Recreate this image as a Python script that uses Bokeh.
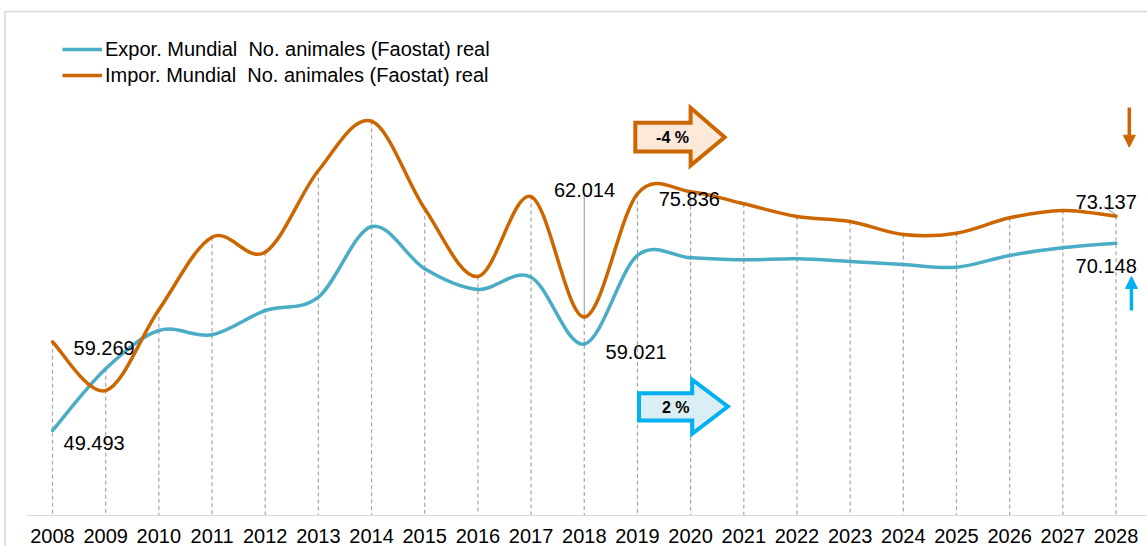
import numpy as np
from bokeh.plotting import figure
from bokeh.models import FixedTicker, Legend, LegendItem, Arrow, NormalHead, Range1d, LinearAxis
from bokeh.embed import file_html
from bokeh.resources import INLINE
from bokeh.core.properties import value

# ---------------- data ----------------
years = list(range(2008, 2029))
year_labels = [str(y) for y in years]
expor = [49.493, 56.30, 60.52, 60.05, 62.73, 64.20, 71.99, 67.33, 65.05, 66.40, 59.021,
         68.80, 68.54, 68.32, 68.43, 68.13, 67.80, 67.50, 68.80, 69.65, 70.148]
impor = [59.269, 53.90, 62.81, 70.81, 69.16, 78.17, 83.61, 73.95, 66.48, 75.30, 62.014,
         75.60, 75.836, 74.50, 73.10, 72.55, 71.11, 71.26, 72.95, 73.76, 73.137]
legend_labels = ["Expor. Mundial  No. animales (Faostat) real",
                 "Impor. Mundial  No. animales (Faostat) real"]
value_labels = ["49.493", "59.269", "62.014", "59.021", "75.836", "73.137", "70.148"]
pct_labels = ["-4 %", "2 %"]

# ---------------- style ----------------
FONT = "Liberation Sans"
C_EXP = "#4BACC6"
C_IMP = "#CC6600"
C_DROP = "#a6a6a6"
C_BORDER = "#d9d9d9"

X0, X1 = 2007.022, 2028.592
Y0, Y1 = 36.70, 96.92
Y_AXIS = 40.12

p = figure(width=1147, height=546, output_backend="svg", toolbar_location=None,
           x_range=Range1d(X0, X1), y_range=Range1d(Y0, Y1),
           x_axis_location=None, y_axis_location=None,
           min_border_left=0, min_border_right=0, min_border_top=0, min_border_bottom=0)
p.outline_line_color = None
p.grid.visible = False
p.background_fill_color = "white"
p.border_fill_color = "white"

ax = LinearAxis(fixed_location=Y_AXIS, bounds=(2007.511, X1))
ax.ticker = FixedTicker(ticks=years)
ax.major_label_overrides = {y: s for y, s in zip(years, year_labels)}
ax.major_tick_line_color = None
ax.minor_tick_line_color = None
ax.axis_line_color = C_BORDER
ax.axis_line_width = 1.2
ax.major_label_text_font = FONT
ax.major_label_text_font_size = "20px"
ax.major_label_text_color = "black"
ax.major_label_standoff = 8
p.add_layout(ax, "below")

# chart-area border (top and left)
p.segment(x0=[2007.107, 2007.107], y0=[95.71, 95.71], x1=[X1, 2007.107], y1=[95.71, Y0],
          line_color=C_BORDER, line_width=1.5)

# drop lines from the higher series to the axis
tops = [max(a, b) for a, b in zip(expor, impor)]
p.segment(x0=years, y0=tops, x1=years, y1=[Y_AXIS] * len(years),
          line_color=C_DROP, line_width=1.2, line_dash="4 3")

# leader lines
p.segment(x0=[2018, 2027.77], y0=[75.41, 74.20], x1=[2018, 2028], y1=[impor[10], impor[20] + 0.15],
          line_color=C_DROP, line_width=1.2)


def bez(xs, ys):
    n = len(xs)
    out = {k: [] for k in ["x0", "y0", "x1", "y1", "cx0", "cy0", "cx1", "cy1"]}
    for i in range(n - 1):
        pm = max(i - 1, 0)
        pp = min(i + 2, n - 1)
        out["x0"].append(xs[i]); out["y0"].append(ys[i])
        out["x1"].append(xs[i + 1]); out["y1"].append(ys[i + 1])
        out["cx0"].append(xs[i] + (xs[i + 1] - xs[pm]) / 6.0)
        out["cy0"].append(ys[i] + (ys[i + 1] - ys[pm]) / 6.0)
        out["cx1"].append(xs[i + 1] - (xs[pp] - xs[i]) / 6.0)
        out["cy1"].append(ys[i + 1] - (ys[pp] - ys[i]) / 6.0)
    return out


for ser, col in [(expor, C_EXP), (impor, C_IMP)]:
    b = bez(years, ser)
    p.bezier(line_color=col, line_width=3.5, line_cap="round", **b)

# legend proxies (placed outside the visible range)
r_exp = p.line(x=[1990, 1991], y=[0, 0], line_color=C_EXP, line_width=3.5)
r_imp = p.line(x=[1990, 1991], y=[0, 0], line_color=C_IMP, line_width=3.5)
legend = Legend(items=[LegendItem(label=legend_labels[0], renderers=[r_exp]),
                       LegendItem(label=legend_labels[1], renderers=[r_imp])],
                location=(62, 458), glyph_width=40, glyph_height=26, label_height=26,
                spacing=0, padding=0, margin=0, label_standoff=3,
                border_line_color=None, background_fill_alpha=0,
                label_text_font=FONT, label_text_font_size="20px", label_text_color="black")
p.add_layout(legend)

# value labels
lx = [2008.207, 2008.395, 2018.005, 2018.40, 2019.40, 2027.24, 2027.24]
ly = [48.17, 58.54, 75.97, 58.10, 75.08, 74.75, 67.69]
la = ["left", "left", "center", "left", "left", "left", "left"]
p.text(x=lx, y=ly, text=value_labels, text_align=la, text_baseline="alphabetic",
       text_font=value(FONT), text_font_size="20px", text_color="black")

# block arrows
def block_arrow(xb0, xb1, xt, yb0, yb1, yh0, yh1, yt):
    xs = [xb0, xb1, xb1, xt, xb1, xb1, xb0]
    ys = [yb0, yb0, yh0, yt, yh1, yb1, yb1]
    return xs, ys

xs, ys = block_arrow(2018.96, 2020.0, 2020.64, 83.43, 80.27, 85.09, 78.72, 81.84)
p.patch(xs, ys, fill_color="#FDE9D9", line_color=C_IMP, line_width=4, line_join="miter")
xs, ys = block_arrow(2019.03, 2020.03, 2020.70, 53.61, 50.60, 55.09, 49.13, 52.14)
p.patch(xs, ys, fill_color="#DAEEF3", line_color="#00B0F0", line_width=4, line_join="miter")
p.text(x=[2019.66, 2019.72], y=[81.81, 52.03], text=pct_labels, text_align="center",
       text_baseline="middle", text_font=value(FONT), text_font_size="16px",
       text_font_style="bold", text_color="black")

# small trend arrows at right
p.add_layout(Arrow(x_start=2028.25, y_start=85.12, x_end=2028.25, y_end=80.74,
                   line_color=C_IMP, line_width=3.5,
                   end=NormalHead(size=12, fill_color=C_IMP, line_color=C_IMP)))
p.add_layout(Arrow(x_start=2028.29, y_start=62.73, x_end=2028.29, y_end=66.48,
                   line_color="#00B0F0", line_width=3.5,
                   end=NormalHead(size=12, fill_color="#00B0F0", line_color="#00B0F0")))

open("out.html", "w").write(file_html(p, INLINE))
